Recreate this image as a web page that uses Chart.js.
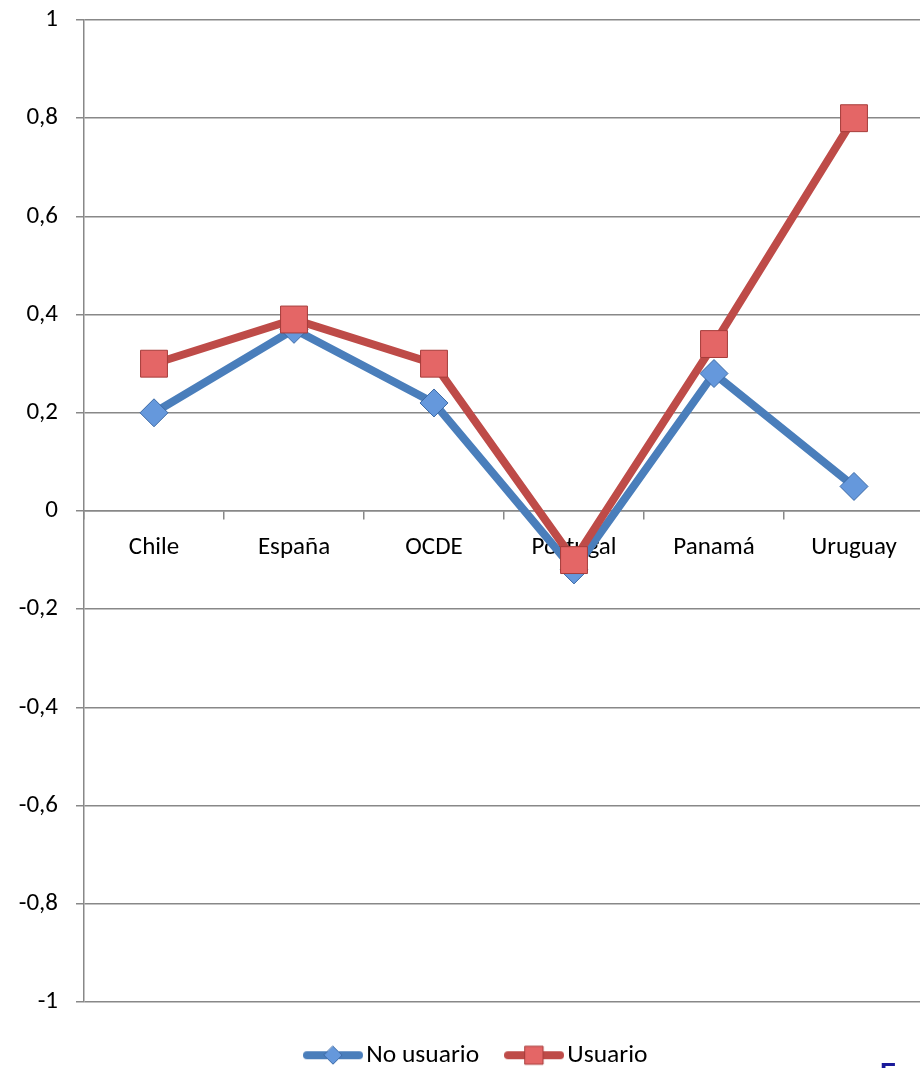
<!DOCTYPE html>
<html>
<head>
<meta charset="utf-8">
<script src="https://cdn.jsdelivr.net/npm/chart.js@4"></script>
<style>
  html, body { margin: 0; padding: 0; background: #fff; overflow: hidden; }
  #wrap { position: relative; width: 928px; height: 1078px; }
  #corner { position: absolute; left: 880px; top: 1057px; font: bold 26px "Liberation Sans", sans-serif; color: #1a1a9a; }
</style>
</head>
<body>
<div id="wrap">
  <canvas id="chart" width="928" height="1078"></canvas>
  <div id="corner">F</div>
</div>
<script>
var paises = ["Chile", "España", "OCDE", "Portugal", "Panamá", "Uruguay"];
var noUsuario = [0.2, 0.37, 0.22, -0.12, 0.28, 0.05];
var usuario = [0.3, 0.39, 0.3, -0.1, 0.34, 0.8];
var yTicks = [1, 0.8, 0.6, 0.4, 0.2, 0, -0.2, -0.4, -0.6, -0.8, -1];

var fuente = "Carlito, Lato, 'Open Sans', sans-serif";

// little legend pictures: thick line with marker in the middle
function legendIcon(lineColor, fill, edge, shape) {
    var c = document.createElement("canvas");
    c.width = 60;
    c.height = 22;
    var g = c.getContext("2d");
    g.strokeStyle = lineColor;
    g.lineWidth = 8;
    g.lineCap = "round";
    g.beginPath();
    g.moveTo(4, 11);
    g.lineTo(56, 11);
    g.stroke();
    g.fillStyle = fill;
    g.strokeStyle = edge;
    g.lineWidth = 1;
    g.beginPath();
    if (shape == "diamond") {
        g.moveTo(30, 2); g.lineTo(39, 11); g.lineTo(30, 20); g.lineTo(21, 11);
        g.closePath();
    } else {
        g.rect(21, 2, 18, 18);
    }
    g.fill();
    g.stroke();
    return c;
}

var iconos = [
    legendIcon("#4a7ebb", "#6598dc", "#3c6aa6", "diamond"),
    legendIcon("#be4b48", "#e46666", "#a63c3a", "square")
];

// the legend in the original sits a bit right of the canvas centre
var moverLeyenda = {
    id: "moverLeyenda",
    afterLayout: function (chart) {
        chart.legend.left += 18;
        chart.legend.right += 18;
    }
};

new Chart(document.getElementById("chart"), {
    type: "line",
    data: {
        labels: paises,
        datasets: [{
            label: "No usuario",
            data: noUsuario,
            borderColor: "#4a7ebb",
            borderWidth: 8,
            backgroundColor: "#6598dc",
            pointStyle: "rectRot",
            pointRadius: 14,
            pointBackgroundColor: "#6598dc",
            pointBorderColor: "#3c6aa6",
            pointBorderWidth: 1,
            tension: 0,
            clip: false,
            order: 2
        }, {
            label: "Usuario",
            data: usuario,
            borderColor: "#be4b48",
            borderWidth: 8,
            backgroundColor: "#e46666",
            pointStyle: "rect",
            pointRadius: 19,
            pointBackgroundColor: "#e46666",
            pointBorderColor: "#a63c3a",
            pointBorderWidth: 1,
            tension: 0,
            clip: false,
            order: 1
        }]
    },
    plugins: [moverLeyenda],
    options: {
        responsive: false,
        animation: false,
        layout: { autoPadding: false, padding: { top: 20, right: 4, left: 0, bottom: 0 } },
        plugins: {
            tooltip: { enabled: false },
            legend: {
                position: "bottom",
                title: { display: true, text: "", font: { size: 5, lineHeight: 1.2 }, padding: 0 },
                labels: {
                    usePointStyle: true,
                    pointStyleWidth: 41,
                    padding: 34.5,
                    color: "#000",
                    font: { family: fuente, size: 25.5 },
                    sort: function (a, b) { return a.datasetIndex - b.datasetIndex; },
                    generateLabels: function (chart) {
                        var items = Chart.defaults.plugins.legend.labels.generateLabels(chart);
                        items.forEach(function (it) { it.pointStyle = iconos[it.datasetIndex]; });
                        return items;
                    }
                }
            }
        },
        scales: {
            x: {
                position: { y: 0 },
                offset: true,
                afterFit: function (s) { s.paddingLeft = 0; s.paddingRight = 0; },
                grid: {
                    offset: true,
                    drawOnChartArea: false,
                    drawTicks: true,
                    tickLength: 8,
                    color: "#888",
                    lineWidth: 1.5
                },
                border: { color: "#888", width: 1.5 },
                ticks: {
                    color: "#000",
                    padding: 14,
                    maxRotation: 0,
                    font: { family: fuente, size: 25 }
                }
            },
            y: {
                min: -1,
                max: 1,
                afterFit: function (s) { s.width = 84; s.paddingTop = 0; s.paddingBottom = 0; },
                afterBuildTicks: function (s) {
                    s.ticks = yTicks.map(function (v) { return { value: v }; });
                },
                grid: {
                    color: "#888",
                    lineWidth: 1.5,
                    drawTicks: true,
                    tickLength: 8
                },
                border: { color: "#888", width: 1.5 },
                ticks: {
                    color: "#000",
                    padding: 18,
                    font: { family: fuente, size: 25 },
                    callback: function (v) { return String(Math.round(v * 10) / 10).replace(".", ","); }
                }
            }
        }
    }
});
</script>
</body>
</html>
